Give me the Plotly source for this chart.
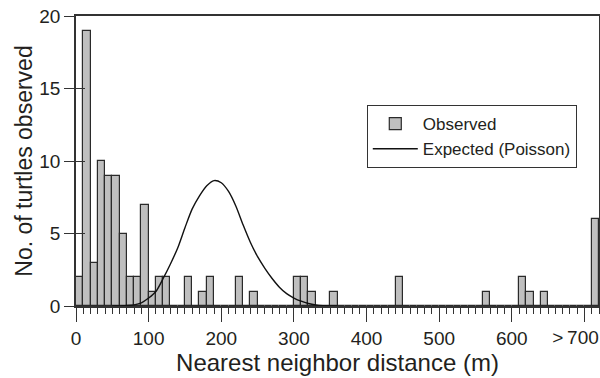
import plotly.graph_objects as go

# Observed histogram: 10 m bins from 0 to 720 m (last bin = ">700")
bin_left_edges = list(range(0, 720, 10))
observed_counts = [
    2, 19, 3, 10, 9, 9, 5, 2, 2, 7,      # 0-90
    1, 2, 2, 0, 0, 2, 0, 1, 2, 0,        # 100-190
    0, 0, 2, 0, 1, 0, 0, 0, 0, 0,        # 200-290
    2, 2, 1, 0, 0, 1, 0, 0, 0, 0,        # 300-390
    0, 0, 0, 0, 2, 0, 0, 0, 0, 0,        # 400-490
    0, 0, 0, 0, 0, 0, 1, 0, 0, 0,        # 500-590
    0, 2, 1, 0, 1, 0, 0, 0, 0, 0,        # 600-690
    0, 6,                                # 700-710 (>700)
]

# Expected (Poisson) curve
expected_x = [50, 60, 70, 80, 90, 100, 110, 120, 130, 140, 150, 160, 170, 180, 190,
              200, 210, 220, 230, 240, 250, 260, 270, 280, 290, 300, 310, 320, 330,
              340, 350, 360]
expected_y = [0.0, 0.01, 0.03, 0.08, 0.22, 0.55, 1.0, 1.9, 2.9, 4.0, 5.4, 6.7, 7.6, 8.3, 8.65,
              8.5, 7.9, 6.9, 5.6, 4.4, 3.4, 2.6, 1.9, 1.3, 0.85, 0.55, 0.33, 0.17, 0.07,
              0.02, 0.0, 0.0]

x_tick_vals = [0, 100, 200, 300, 400, 500, 600, 700]
x_tick_text = ["0", "100", "200", "300", "400", "500", "600", ""]
last_tick_val = [700]
last_tick_text = [">\u2009700"]
y_tick_vals = [0, 5, 10, 15, 20]

FONT = "Liberation Sans, Arial, Helvetica, sans-serif"
INK = "#231f20"
TICK = "#333333"

fig = go.Figure()
fig.add_trace(go.Bar(
    x=[e + 5 for e in bin_left_edges],
    y=observed_counts,
    width=10,
    name="Observed",
    marker=dict(color="#bfbfbf", line=dict(color="#2a2a2a", width=1.2)),
    xaxis="x", yaxis="y",
))
fig.add_trace(go.Scatter(
    x=expected_x,
    y=expected_y,
    mode="lines",
    name="Expected (Poisson)",
    line=dict(color="#111111", width=1.4, shape="spline", smoothing=0.8),
    xaxis="x2", yaxis="y2",
))

fig.update_layout(
    width=600, height=378,
    margin=dict(l=76, r=1, t=16, b=72),
    paper_bgcolor="white", plot_bgcolor="white",
    font=dict(family=FONT, color=INK, size=19),
    bargap=0,
    showlegend=True,
    legend=dict(
        x=0.556, y=0.693, xanchor="left", yanchor="top",
        bordercolor="#333333", borderwidth=1, bgcolor="white",
        font=dict(size=17, family=FONT, color=INK),
        itemwidth=45, tracegroupgap=0,
    ),
    xaxis=dict(
        range=[0, 720], showgrid=False, zeroline=False, automargin=False,
        showline=True, linecolor=TICK, linewidth=1.5, mirror=True,
        tickmode="array", tickvals=x_tick_vals, ticktext=x_tick_text,
        ticks="outside", ticklen=14, tickwidth=1, tickcolor=TICK,
        minor=dict(dtick=10, tick0=0, ticks="outside", ticklen=6, tickwidth=1, tickcolor=TICK),
        tickfont=dict(size=19),
        title=dict(text="\u00a0\u00a0Nearest neighbor distance (m)", font=dict(size=24), standoff=7),
    ),
    xaxis2=dict(
        range=[0, 720], overlaying="x", anchor="y", side="bottom",
        showgrid=False, zeroline=False, showline=False, automargin=False,
        tickmode="array", tickvals=last_tick_val, ticktext=last_tick_text,
        ticks="outside", ticklen=14, tickcolor="rgba(0,0,0,0)",
        tickfont=dict(size=19), ticklabelshift=-9,
    ),
    yaxis=dict(
        range=[0, 20], showgrid=False, zeroline=False, automargin=False,
        showline=True, linecolor=TICK, linewidth=1.5, mirror=True,
        tickmode="array", tickvals=y_tick_vals,
        ticks="outside", ticklen=10, tickwidth=1, tickcolor=TICK,
        tickfont=dict(size=19),
        title=dict(text="No. of turtles observed", font=dict(size=23), standoff=0),
    ),
    yaxis2=dict(
        range=[0, 20], overlaying="y", anchor="x", side="left",
        showgrid=False, zeroline=False, showline=False, automargin=False,
        tickmode="array", tickvals=y_tick_vals,
        ticks="inside", ticklen=9, tickwidth=1, tickcolor=TICK,
        showticklabels=False,
    ),
)

# Remove the browser's default page margin so the 600x378 figure fills the window.
fig.write_html(
    "out.html",
    config={"displayModeBar": False},
    post_script="document.body.style.margin='0px';document.body.style.overflow='hidden';",
)
